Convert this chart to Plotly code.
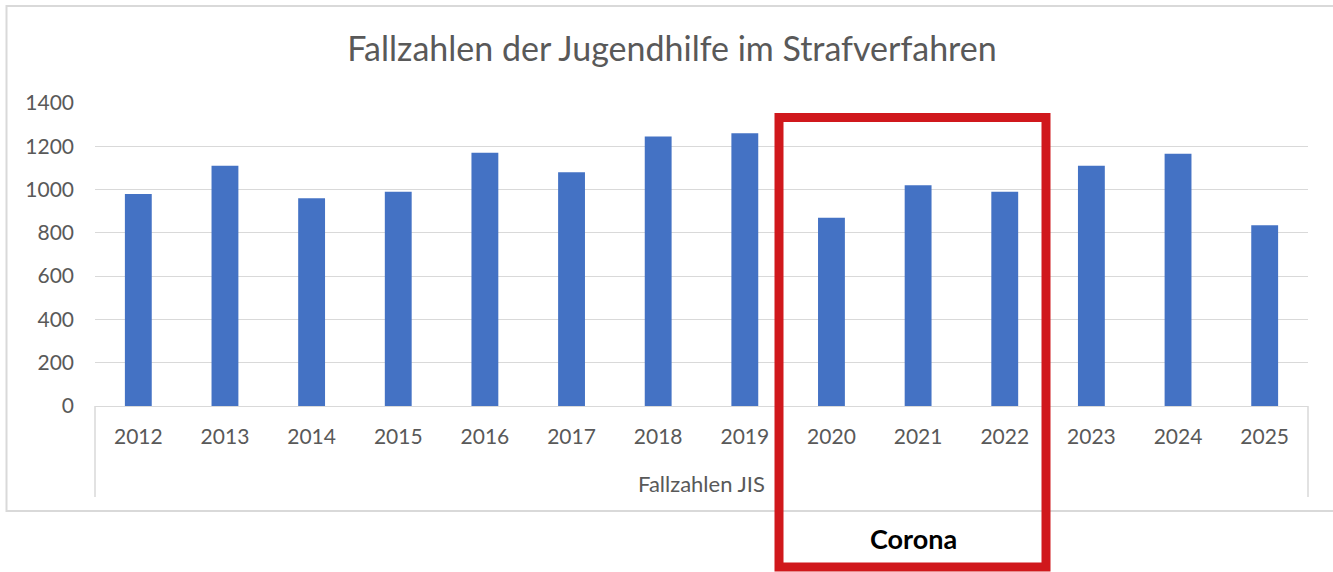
import plotly.graph_objects as go

years = ["2012", "2013", "2014", "2015", "2016", "2017", "2018",
         "2019", "2020", "2021", "2022", "2023", "2024", "2025"]
cases = [980, 1110, 960, 990, 1170, 1080, 1245, 1260, 870, 1020, 990, 1110, 1165, 835]
y_ticks = [0, 200, 400, 600, 800, 1000, 1200, 1400]
title_text = "Fallzahlen der Jugendhilfe im Strafverfahren"
group_label = "Fallzahlen JIS"
highlight_label = "Corona"

W, H = 1333, 572
L, R, T, B = 95, 1308, 103, 406  # plot area in pixels
pw, ph = R - L, B - T

def px(x):
    return (x - L) / pw

def py(y):
    return (B - y) / ph

TXT = "#595959"
FONT = "Lato"

fig = go.Figure(go.Bar(x=years, y=cases, marker=dict(color="#4472C4", line=dict(width=0))))

fig.update_layout(
    width=W, height=H,
    margin=dict(l=L, r=W - R, t=T, b=H - B),
    paper_bgcolor="white", plot_bgcolor="white",
    bargap=0.69,
    showlegend=False,
    font=dict(family=FONT, color=TXT, size=21),
    title=dict(text=title_text, x=672 / W, xanchor="center",
               y=1 - 49 / H, yanchor="middle", yref="container",
               font=dict(family=FONT, size=34, color=TXT)),
)
fig.update_yaxes(range=[0, 1400], tickvals=y_ticks, showgrid=True, gridcolor="#D9D9D9",
                 gridwidth=1, zeroline=False, showline=False, ticks="",
                 tickfont=dict(family=FONT, size=21, color=TXT), ticklabelstandoff=20)
fig.update_xaxes(type="category", showline=True, linecolor="#D9D9D9", linewidth=1,
                 ticks="", showgrid=False,
                 tickfont=dict(family=FONT, size=21, color=TXT), ticklabelstandoff=12)

shapes = [
    # outer chart border
    dict(type="rect", xref="paper", yref="paper", x0=px(6.5), x1=px(1345), y0=py(511), y1=py(6),
         line=dict(color="#D9D9D9", width=2), layer="below"),
    # category group box sides
    dict(type="line", xref="paper", yref="paper", x0=0, x1=0, y0=0, y1=py(497),
         line=dict(color="#D9D9D9", width=1.5)),
    dict(type="line", xref="paper", yref="paper", x0=1, x1=1, y0=0, y1=py(497),
         line=dict(color="#D9D9D9", width=1.5)),
    # red highlight box
    dict(type="rect", xref="paper", yref="paper", x0=px(779), x1=px(1046), y0=py(567), y1=py(117.5),
         line=dict(color="#D0181C", width=9), layer="above"),
]
annotations = [
    dict(text=group_label, xref="paper", yref="paper", x=px(701), y=py(483),
         showarrow=False, xanchor="center", yanchor="middle",
         font=dict(family=FONT, size=22, color=TXT)),
    dict(text="<b>" + highlight_label + "</b>", xref="paper", yref="paper", x=px(913), y=py(538),
         showarrow=False, xanchor="center", yanchor="middle",
         font=dict(family=FONT, size=27, color="black")),
]
fig.update_layout(shapes=shapes, annotations=annotations)

fig.write_html("out.html", config={"displayModeBar": False},
               post_script="document.body.style.margin='0';document.body.style.overflow='hidden';")
